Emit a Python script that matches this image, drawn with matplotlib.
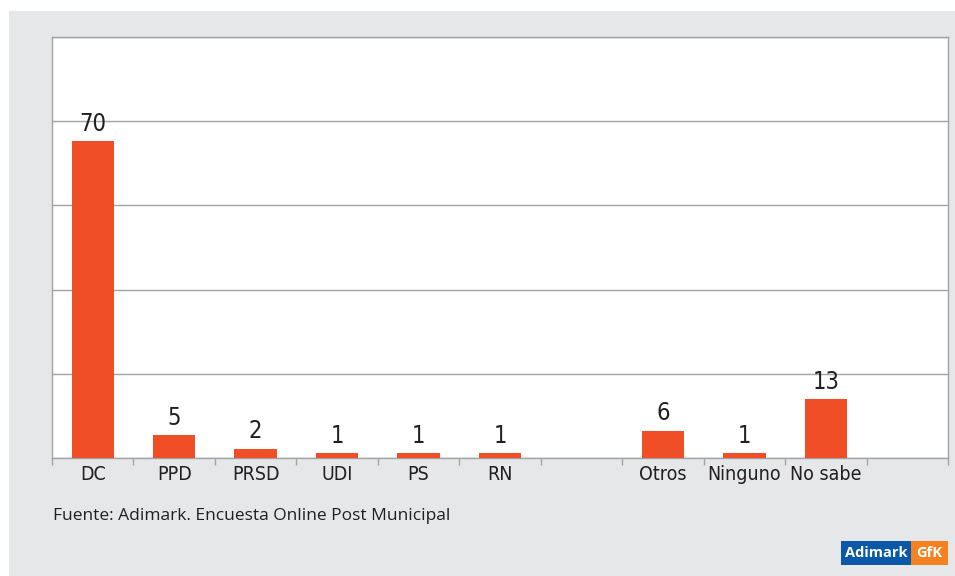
import matplotlib.pyplot as plt
from matplotlib.patches import Rectangle

# Data (None = empty slot)
categories = ['DC', 'PPD', 'PRSD', 'UDI', 'PS', 'RN', '', 'Otros', 'Ninguno', 'No sabe', '']
values = [70, 5, 2, 1, 1, 1, None, 6, 1, 13, None]
source = 'Fuente: Adimark. Encuesta Online Post Municipal'

W, H = 955, 576
fig = plt.figure(figsize=(W / 100, H / 100), dpi=100)
fig.patch.set_facecolor('white')

# grey panel behind everything
fig.patches.append(Rectangle((9 / W, 0), 1 - 9 / W, (H - 11) / H,
                             transform=fig.transFigure, facecolor='#e6e7e8',
                             edgecolor='none', zorder=-10))

ax = fig.add_axes([52 / W, (H - 458) / H, (948 - 52) / W, (458 - 37) / H])
ax.set_zorder(1)
ax.set_facecolor('white')

narrow = dict(family='DejaVu Sans', stretch='condensed', color='#231f20')
grid_c = '#a3a3a3'

xs = [i for i, v in enumerate(values) if v is not None]
hs = [v for v in values if v is not None]
bars = ax.bar(xs, hs, width=0.52, color='#f04e27', zorder=3)
for x, h in zip(xs, hs):
    ax.annotate(str(h), (x, h), xytext=(0, 4), textcoords='offset points',
                ha='center', va='bottom', fontsize=17, zorder=4, **narrow)

ymax = 93
ax.set_ylim(0, ymax)
ax.set_xlim(-0.5, len(categories) - 0.5)
ax.set_yticks([ymax * k / 5 for k in range(6)])
ax.set_yticklabels([])
ax.tick_params(axis='y', length=0)
ax.grid(axis='y', color=grid_c, linewidth=1, zorder=1)

ax.set_xticks(range(len(categories)))
ax.set_xticklabels(categories, fontsize=14, **narrow)
ax.tick_params(axis='x', which='major', length=0, pad=5)
ax.set_xticks([i - 0.5 for i in range(len(categories) + 1)], minor=True)
ax.tick_params(axis='x', which='minor', length=5, width=1, color=grid_c, direction='out')

for s in ['left', 'right', 'top', 'bottom']:
    ax.spines[s].set_color(grid_c)
    ax.spines[s].set_linewidth(1)

fig.text(53 / W, 1 - 516 / H, source, fontsize=12.5, family='Open Sans',
         color='#231f20', va='center', ha='left')

# Adimark GfK logo
y0 = 1 - 565 / H
lh = 24 / H
fig.patches.append(Rectangle((841 / W, y0), 70 / W, lh, transform=fig.transFigure,
                             facecolor='#0a58a8', edgecolor='none'))
fig.patches.append(Rectangle((911 / W, y0), 37 / W, lh, transform=fig.transFigure,
                             facecolor='#f58220', edgecolor='none'))
fig.text(876 / W, y0 + lh / 2, 'Adimark', color='white', fontsize=10.5,
         fontweight='bold', family='Open Sans', ha='center', va='center')
fig.text(929.5 / W, y0 + lh / 2, 'GfK', color='white', fontsize=10.5,
         fontweight='bold', family='Open Sans', ha='center', va='center')

fig.savefig('out.png', dpi=100, facecolor=fig.get_facecolor())
